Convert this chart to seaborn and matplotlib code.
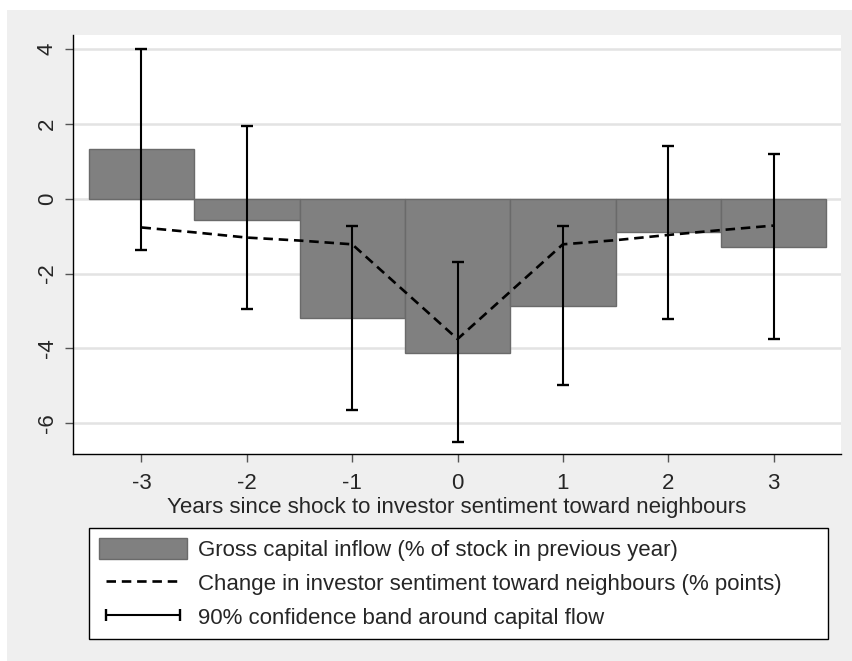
import matplotlib
matplotlib.use("Agg")
import matplotlib.pyplot as plt
from matplotlib.patches import Rectangle, Patch
from matplotlib.lines import Line2D
import numpy as np
import pandas as pd
import seaborn as sns

# Event-study values: years relative to the sentiment shock
years = [-3, -2, -1, 0, 1, 2, 3]
capital_inflow = [1.33, -0.57, -3.20, -4.12, -2.87, -0.90, -1.30]
ci_low = [-1.37, -2.96, -5.65, -6.51, -4.99, -3.21, -3.74]
ci_high = [4.00, 1.93, -0.72, -1.70, -0.72, 1.40, 1.20]

sentiment_years = [-3, -2.5, -2, -1.5, -1, 0, 1, 1.5, 2, 2.5, 3]
sentiment_change = [-0.77, -0.90, -1.04, -1.12, -1.22, -3.75, -1.22, -1.11, -0.97, -0.84, -0.72]

x_ticks = [-3, -2, -1, 0, 1, 2, 3]
y_ticks = [-6, -4, -2, 0, 2, 4]

legend_labels = [
    "Gross capital inflow (% of stock in previous year)",
    "Change in investor sentiment toward neighbours (% points)",
    "90% confidence band around capital flow",
]
x_label = "Years since shock to investor sentiment toward neighbours"

FS = 16

sns.set_style("white")
plt.rcParams["font.family"] = ["Liberation Sans", "DejaVu Sans"]
plt.rcParams["axes.unicode_minus"] = False

flows = pd.DataFrame({"year": years, "inflow": capital_inflow,
                      "lo": ci_low, "hi": ci_high})
sentiment = pd.DataFrame({"year": sentiment_years, "change": sentiment_change})

W, H = 853, 661
fig = plt.figure(figsize=(W / 100, H / 100), dpi=100)
fig.patch.set_facecolor("white")
fig.patches.append(Rectangle((7 / W, 0), 1, 1 - 10 / H, transform=fig.transFigure,
                             facecolor="#efefef", edgecolor="none", zorder=-10))

ax = fig.add_axes([73 / W, 1 - 454 / H, (841 - 73) / W, (454 - 35) / H])
ax.set_facecolor("white")

sns.barplot(data=flows, x="year", y="inflow", native_scale=True, width=1.0,
            color="#808080", saturation=1, edgecolor="#6a6a6a", linewidth=1.0,
            errorbar=None, ax=ax, zorder=2)

yerr = np.vstack([flows["inflow"] - flows["lo"], flows["hi"] - flows["inflow"]])
ax.errorbar(flows["year"], flows["inflow"], yerr=yerr, fmt="none", ecolor="black",
            elinewidth=1.5, capsize=4.5, capthick=1.7, zorder=4)

sns.lineplot(data=sentiment, x="year", y="change", color="black", linewidth=1.9,
             ax=ax, zorder=3)
ax.lines[-1].set_dashes((3.6, 2.2))

ax.set_xlim(-3.65, 3.64)
ax.set_ylim(-6.82, 4.37)
ax.set_xticks(x_ticks)
ax.set_xticklabels([str(v) for v in x_ticks])
ax.set_yticks(y_ticks)
ax.set_yticklabels([str(v) for v in y_ticks])

ax.grid(axis="y", color="#e3e3e3", linewidth=1.8, zorder=0)
ax.grid(axis="x", visible=False)
ax.set_axisbelow(True)

for s in ["top", "right"]:
    ax.spines[s].set_visible(False)
for s in ["left", "bottom"]:
    ax.spines[s].set_color("black")
    ax.spines[s].set_linewidth(1.0)

ax.tick_params(axis="both", which="major", direction="out", length=6, width=1.0,
               color="#555555", labelsize=FS, pad=5, left=True, bottom=True)
ax.tick_params(axis="x", pad=8)
ax.tick_params(axis="y", labelrotation=90)
for lab in ax.get_yticklabels():
    lab.set_va("center")

ax.set_xlabel(x_label, fontsize=FS, labelpad=2)
ax.set_ylabel("")

handles = [
    Patch(facecolor="#808080", edgecolor="#6a6a6a", linewidth=1.0),
    Line2D([], [], color="black", linewidth=1.9, dashes=(3.6, 2.2)),
    Line2D([], [], color="black", linewidth=1.5, marker="|", markersize=9,
           markeredgewidth=1.7),
]
leg = fig.legend(handles, legend_labels, loc="upper left",
                 bbox_to_anchor=(89 / W, 1 - 528 / H, (828 - 89) / W, 0.0),
                 mode="expand", fontsize=FS, numpoints=2, frameon=True,
                 fancybox=False, shadow=False, handlelength=3.95, handleheight=1.1,
                 handletextpad=0.5, labelspacing=0.49, borderpad=0.45,
                 borderaxespad=0.0)
frame = leg.get_frame()
frame.set_edgecolor("black")
frame.set_linewidth(1.0)
frame.set_facecolor("white")
frame.set_alpha(1.0)

fig.savefig("out.png", dpi=100, facecolor=fig.get_facecolor())
